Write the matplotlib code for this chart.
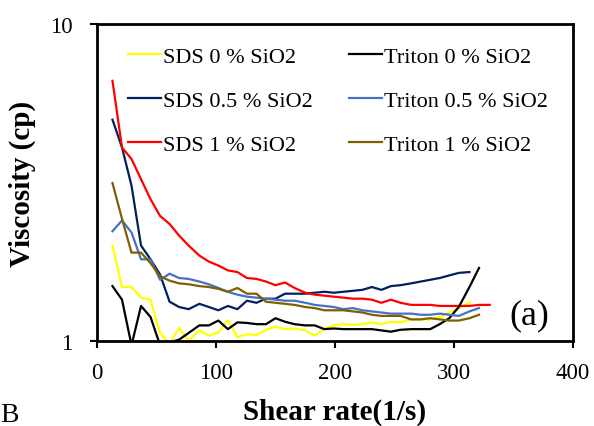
import matplotlib
matplotlib.use("Agg")
import matplotlib.pyplot as plt

plt.rcParams['font.family'] = ['Liberation Serif', 'DejaVu Serif']

# shear rate grid (1/s)
shear = [13, 21, 29, 37, 45, 53, 61, 69, 77, 86, 94, 102, 110, 118, 126, 134,
         142, 150, 158, 166, 175, 183, 191, 199, 207, 215, 223, 231, 239, 247,
         255, 264, 272, 280, 288, 296, 304, 313, 321, 330]

sds_0 = [2.0, 1.48, 1.48, 1.37, 1.35, 1.06, 0.98, 1.10, 1.00, 1.08, 1.04, 1.065,
         1.16, 1.03, 1.05, 1.045, 1.085, 1.11, 1.09, 1.095, 1.08, 1.04, 1.095,
         1.12, 1.13, 1.125, 1.13, 1.145, 1.13, 1.15, 1.145, 1.17, 1.17, 1.17,
         1.19, 1.23, 1.27, 1.32]
sds_05 = [4.99, 4.08, 3.09, 2.0, 1.81, 1.62, 1.33, 1.28, 1.26, 1.31, 1.28, 1.25,
          1.29, 1.26, 1.34, 1.32, 1.36, 1.36, 1.41, 1.41, 1.41, 1.42, 1.43, 1.42,
          1.43, 1.44, 1.45, 1.48, 1.45, 1.49, 1.50, 1.52, 1.54, 1.56, 1.58, 1.61,
          1.64, 1.65]
sds_1 = [6.62, 4.08, 3.75, 3.24, 2.80, 2.48, 2.34, 2.15, 2.00, 1.86, 1.78, 1.73,
         1.67, 1.65, 1.58, 1.57, 1.54, 1.50, 1.53, 1.47, 1.42, 1.40, 1.39, 1.38,
         1.37, 1.36, 1.36, 1.35, 1.32, 1.35, 1.32, 1.30, 1.30, 1.30, 1.29, 1.29,
         1.29, 1.29, 1.30, 1.30]
triton_0 = [1.49, 1.35, 0.97, 1.29, 1.19, 0.97, 0.99, 1.01, 1.06, 1.12, 1.12,
            1.16, 1.09, 1.145, 1.14, 1.13, 1.13, 1.18, 1.15, 1.13, 1.12, 1.12,
            1.09, 1.095, 1.09, 1.09, 1.09, 1.09, 1.08, 1.07, 1.085, 1.09, 1.09,
            1.09, 1.13, 1.18, 1.28, 1.48, 1.70]
triton_05 = [2.22, 2.40, 2.20, 1.81, 1.81, 1.56, 1.63, 1.58, 1.57, 1.54, 1.51,
             1.47, 1.43, 1.40, 1.38, 1.37, 1.36, 1.35, 1.34, 1.34, 1.32, 1.30,
             1.29, 1.28, 1.26, 1.27, 1.25, 1.24, 1.23, 1.22, 1.22, 1.22, 1.21,
             1.21, 1.22, 1.21, 1.20, 1.24, 1.27]
triton_1 = [3.15, 2.43, 1.90, 1.90, 1.76, 1.60, 1.55, 1.52, 1.51, 1.49, 1.48,
            1.46, 1.43, 1.47, 1.41, 1.41, 1.33, 1.32, 1.31, 1.30, 1.28, 1.27,
            1.25, 1.25, 1.25, 1.24, 1.23, 1.21, 1.20, 1.20, 1.20, 1.17, 1.17,
            1.18, 1.17, 1.16, 1.16, 1.18, 1.21]

series = [
    ('SDS 0 % SiO2', sds_0, '#FFFF00'),
    ('SDS 0.5 % SiO2', sds_05, '#002060'),
    ('SDS 1 % SiO2', sds_1, '#FF0000'),
    ('Triton 0 % SiO2', triton_0, '#000000'),
    ('Triton 0.5 % SiO2', triton_05, '#4472C4'),
    ('Triton 1 % SiO2', triton_1, '#7F6000'),
]

fig = plt.figure(figsize=(5.94, 4.27), dpi=100)
ax = fig.add_axes([97 / 594, 85 / 427, 476 / 594, 317 / 427])

for name, vals, col in series:
    ax.plot(shear[:len(vals)], vals, color=col, lw=1.6, label=name)

ax.set_yscale('log')
ax.set_ylim(1, 10)
ax.set_xlim(0, 400)
ax.set_xticks([0, 100, 200, 300, 400])
ax.set_yticks([1, 10])
ax.set_yticklabels(['1', '10'])
ax.minorticks_off()
ax.tick_params(direction='out', length=5, width=1.5, labelsize=16.5)
ax.tick_params(axis='x', pad=10)
ax.tick_params(axis='y', pad=12.5)
for s in ax.spines.values():
    s.set_linewidth(2)

ax.set_xlabel('Shear rate(1/s)', fontsize=21, fontweight='bold', labelpad=10.5)
ax.set_ylabel('Viscosity (cp)', fontsize=21, fontweight='bold', labelpad=10)

ax.legend(loc='upper left', bbox_to_anchor=(0.065, 0.93), ncol=2, frameon=False,
          fontsize=16, handlelength=1.5, handletextpad=0.1, labelspacing=1.05,
          columnspacing=1.6, borderpad=0, borderaxespad=0)

ax.text(363, 1.21, '(a)', fontsize=26, ha='center', va='center')
fig.text(0.0, 0.028, 'B', fontsize=20, ha='left', va='center')

fig.savefig('out.png', dpi=100)
